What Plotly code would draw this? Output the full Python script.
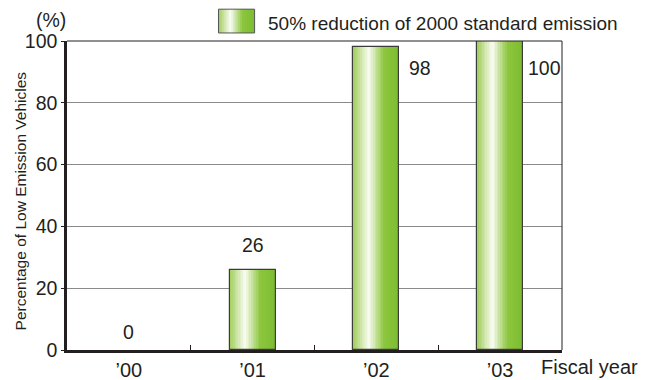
import plotly.graph_objects as go

# Fiscal years and share (%) of low-emission vehicles
years = ["’00", "’01", "’02", "’03"]
share = [0, 26, 98, 100]
series_name = "50% reduction of 2000 standard emission"

# label placement (pixel offsets from the bar top): (xshift, yshift, xanchor)
label_pos = [(0, 18, "center"), (0, 25, "center"), (31, -21, "left"), (26, -27, "left")]

FONT = "Liberation Sans, Arial, Helvetica, sans-serif"
INK = "#231f20"
BAR_W = 0.37
N_SLICES = 28

# horizontal shading profile of the bars: light green -> white -> green
stops = [(0.0, (160, 205, 92)), (0.33, (250, 252, 244)), (0.66, (141, 198, 63)), (1.0, (124, 188, 48))]


def shade(t):
    for (t0, c0), (t1, c1) in zip(stops[:-1], stops[1:]):
        if t <= t1:
            f = (t - t0) / (t1 - t0)
            return "rgb(%d,%d,%d)" % tuple(round(a + (b - a) * f) for a, b in zip(c0, c1))
    return "rgb(%d,%d,%d)" % stops[-1][1]


fig = go.Figure()
step = BAR_W / N_SLICES
for i in range(N_SLICES):
    w = min(step * 1.6, BAR_W - i * step)
    fig.add_trace(go.Bar(
        x=years, y=share, width=w, offset=-BAR_W / 2 + i * step,
        marker=dict(color=shade((i + 0.5) / N_SLICES), line=dict(width=0)),
        showlegend=False, hoverinfo="skip",
    ))
# outline on top of the shaded slices (none for empty bars)
fig.add_trace(go.Bar(
    x=years, y=share, width=BAR_W, offset=-BAR_W / 2, name=series_name,
    marker=dict(color="rgba(0,0,0,0)",
                line=dict(color="#3c3c3c", width=[1.2 if v > 0 else 0 for v in share])),
    showlegend=False,
))

# value labels
for yr, v, (dx, dy, xa) in zip(years, share, label_pos):
    fig.add_annotation(x=yr, y=v, text=str(v), showarrow=False, xanchor=xa, yanchor="middle",
                       xshift=dx, yshift=dy, font=dict(size=19.5, color=INK, family=FONT))

shapes = []
# frame: thin top and right edges
shapes.append(dict(type="line", xref="paper", yref="paper", x0=0, x1=1, y0=1, y1=1,
                   line=dict(color=INK, width=1)))
shapes.append(dict(type="line", xref="paper", yref="paper", x0=1, x1=1, y0=0, y1=1,
                   line=dict(color=INK, width=1)))
# legend swatch with the same shading
sx0, sx1, sy0, sy1 = 0.306, 0.379, 1.026, 1.103
n_sw = 20
for i in range(n_sw):
    a = sx0 + (sx1 - sx0) * i / n_sw
    b = sx0 + (sx1 - sx0) * min(i + 1.6, n_sw) / n_sw
    shapes.append(dict(type="rect", xref="paper", yref="paper", x0=a, x1=b, y0=sy0, y1=sy1,
                       fillcolor=shade((i + 0.5) / n_sw), line=dict(width=0), layer="above"))
shapes.append(dict(type="rect", xref="paper", yref="paper", x0=sx0, x1=sx1, y0=sy0, y1=sy1,
                   line=dict(color="#555555", width=1), layer="above"))

fig.add_annotation(xref="paper", yref="paper", x=0.403, y=1.056, text=series_name,
                   showarrow=False, xanchor="left", yanchor="middle",
                   font=dict(size=19, color=INK, family=FONT))
fig.add_annotation(xref="paper", yref="paper", x=-0.032, y=1.068, text="(%)",
                   showarrow=False, xanchor="center", yanchor="middle",
                   font=dict(size=19.5, color=INK, family=FONT))
fig.add_annotation(xref="paper", yref="paper", x=0.953, y=-0.055, text="Fiscal year",
                   showarrow=False, xanchor="left", yanchor="middle",
                   font=dict(size=20, color=INK, family=FONT))
fig.add_annotation(xref="paper", yref="paper", x=-0.095, y=0.484,
                   text="Percentage of Low Emission Vehicles", textangle=-90,
                   showarrow=False, xanchor="center", yanchor="middle",
                   font=dict(size=15.5, color=INK, family=FONT))

fig.update_layout(
    width=652, height=380,
    margin=dict(l=67, r=90, t=41, b=30, autoexpand=False),
    paper_bgcolor="white", plot_bgcolor="white",
    barmode="overlay", bargap=0,
    shapes=shapes,
    font=dict(family=FONT, color=INK),
    xaxis=dict(
        type="category", showline=True, linecolor=INK, linewidth=2.5,
        tickson="boundaries", ticks="inside", ticklen=5, tickcolor=INK, tickwidth=1,
        ticklabelstandoff=0, automargin=False,
        showgrid=False, tickfont=dict(size=20, color=INK, family=FONT),
        range=[-0.5, 3.5],
    ),
    yaxis=dict(
        range=[0, 100], tickvals=[0, 20, 40, 60, 80, 100],
        showline=True, linecolor=INK, linewidth=2.5, automargin=False,
        ticks="outside", ticklen=3, tickcolor=INK,
        showgrid=True, gridcolor="#8a8a8a", gridwidth=1, zeroline=False,
        tickfont=dict(size=19.5, color=INK, family=FONT),
    ),
)

fig.write_html("out.html")
